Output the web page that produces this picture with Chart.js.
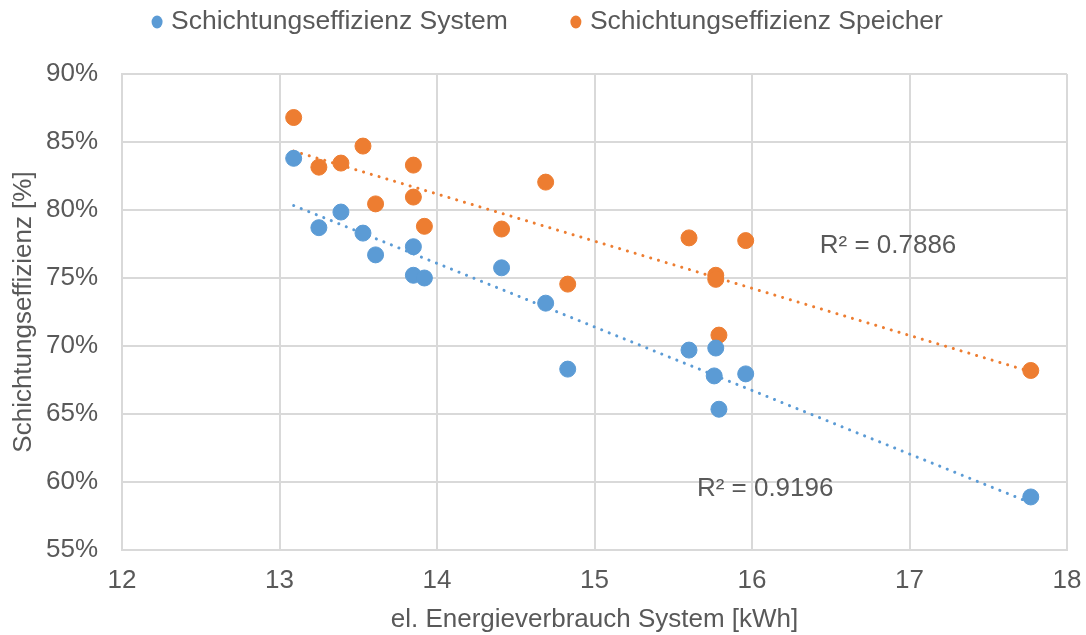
<!DOCTYPE html>
<html>
<head>
<meta charset="utf-8">
<script src="https://cdn.jsdelivr.net/npm/chart.js@4.4.1/dist/chart.umd.min.js"></script>
<style>
  html, body { margin: 0; padding: 0; background: #ffffff; }
  #wrap { width: 1086px; height: 635px; }
</style>
</head>
<body>
<div id="wrap"><canvas id="c" width="1086" height="635"></canvas></div>
<script>
// ---- data ----
const energy = [13.09, 13.25, 13.39, 13.53, 13.61, 13.85, 13.85, 13.92, 14.41, 14.69, 14.83, 15.60, 15.77, 15.76, 15.79, 15.96, 17.77];
const effSystem = [83.8, 78.7, 79.85, 78.3, 76.7, 77.3, 75.2, 75.0, 75.75, 73.15, 68.3, 69.7, 69.85, 67.8, 65.35, 67.95, 58.9];
const energySpeicher = [13.09, 13.25, 13.39, 13.53, 13.61, 13.85, 13.85, 13.92, 14.41, 14.69, 14.83, 15.60, 15.77, 15.77, 15.79, 15.96, 17.77];
const effSpeicher = [86.8, 83.15, 83.45, 84.7, 80.45, 83.3, 80.95, 78.8, 78.6, 82.05, 74.55, 77.95, 75.2, 74.9, 70.8, 77.75, 68.2];
const seriesNames = ["Schichtungseffizienz System", "Schichtungseffizienz Speicher"];
const r2Labels = ["R² = 0.9196", "R² = 0.7886"];
const r2Pos = [[15.65, 59.5], [16.43, 77.35]];
const xTicks = [12, 13, 14, 15, 16, 17, 18];
const yTicks = [55, 60, 65, 70, 75, 80, 85, 90];

const BLUE = "#5B9BD5", ORANGE = "#ED7D31", TXT = "#595959", GRID = "#D9D9D9";
const FONT = "'Liberation Sans', Arial, sans-serif";

function pts(xs, ys) { return xs.map((x, i) => ({ x: x, y: ys[i] })); }
function fit(xs, ys) {
  const n = xs.length;
  const mx = xs.reduce((a, b) => a + b, 0) / n, my = ys.reduce((a, b) => a + b, 0) / n;
  let sxy = 0, sxx = 0;
  for (let i = 0; i < n; i++) { sxy += (xs[i] - mx) * (ys[i] - my); sxx += (xs[i] - mx) ** 2; }
  const b = sxy / sxx, a = my - b * mx;
  const x0 = Math.min(...xs), x1 = Math.max(...xs);
  return [{ x: x0, y: a + b * x0 }, { x: x1, y: a + b * x1 }];
}

const legendPlugin = {
  id: 'topLegend',
  afterDraw(chart) {
    const ctx = chart.ctx;
    ctx.save();
    ctx.font = "26.5px " + FONT;
    ctx.textBaseline = 'middle';
    const r = 6, gap = 14, itemGap = 68;
    const w = seriesNames.map(s => ctx.measureText(s).width);
    const total = r + gap + w[0] + itemGap + gap + w[1];
    let x = 550 - total / 2 + r / 2;
    const y = 22;
    const cols = [BLUE, ORANGE];
    for (let i = 0; i < 2; i++) {
      ctx.fillStyle = cols[i];
      ctx.beginPath(); ctx.ellipse(x, y, 5.5, 6.5, 0, 0, Math.PI * 2); ctx.fill();
      ctx.fillStyle = TXT; ctx.textAlign = 'left';
      ctx.fillText(seriesNames[i], x + gap, y);
      x = x + gap + w[i] + itemGap;
    }
    // R² labels
    ctx.font = "26px " + FONT;
    const xs = chart.scales.x, ys = chart.scales.y;
    for (let i = 0; i < r2Labels.length; i++) {
      ctx.fillText(r2Labels[i], xs.getPixelForValue(r2Pos[i][0]), ys.getPixelForValue(r2Pos[i][1]));
    }
    ctx.restore();
  }
};

new Chart(document.getElementById('c'), {
  type: 'scatter',
  data: {
    datasets: [
      { label: seriesNames[0], data: pts(energy, effSystem), backgroundColor: BLUE, borderColor: BLUE, pointRadius: 8, pointHoverRadius: 8, order: 1 },
      { label: seriesNames[1], data: pts(energySpeicher, effSpeicher), backgroundColor: ORANGE, borderColor: ORANGE, pointRadius: 8, pointHoverRadius: 8, order: 1 },
      { type: 'line', label: 'Trend System', data: fit(energy, effSystem), borderColor: BLUE, borderWidth: 3, borderDash: [0.1, 8], borderCapStyle: 'round', pointRadius: 0, showLine: true, fill: false, order: 2 },
      { type: 'line', label: 'Trend Speicher', data: fit(energySpeicher, effSpeicher), borderColor: ORANGE, borderWidth: 3, borderDash: [0.1, 8], borderCapStyle: 'round', pointRadius: 0, showLine: true, fill: false, order: 2 }
    ]
  },
  options: {
    responsive: false,
    animation: false,
    devicePixelRatio: 1,
    layout: { padding: { top: 74, right: 19, left: 0, bottom: 0 } },
    plugins: { legend: { display: false }, tooltip: { enabled: false } },
    scales: {
      x: {
        type: 'linear', min: 12, max: 18,
        afterBuildTicks: (s) => { s.ticks = xTicks.map(v => ({ value: v })); },
        afterFit: (s) => { s.height = 85; s.paddingLeft = 0; s.paddingRight = 0; },
        grid: { color: GRID, lineWidth: 2, drawTicks: false },
        border: { color: GRID, width: 2 },
        ticks: { color: TXT, font: { family: FONT, size: 26 }, padding: 15, maxRotation: 0 },
        title: { display: true, text: 'el. Energieverbrauch System [kWh]', color: TXT, font: { family: FONT, size: 26 }, padding: { top: 0, bottom: 0 } }
      },
      y: {
        type: 'linear', min: 55, max: 90,
        afterBuildTicks: (s) => { s.ticks = yTicks.map(v => ({ value: v })); },
        afterFit: (s) => { s.width = 122; s.paddingTop = 0; s.paddingBottom = 0; },
        grid: { color: GRID, lineWidth: 2, drawTicks: false },
        border: { color: GRID, width: 2 },
        ticks: { color: TXT, font: { family: FONT, size: 26 }, padding: 24, callback: (v) => v + '%' },
        title: { display: true, text: 'Schichtungseffizienz [%]', color: TXT, font: { family: FONT, size: 26 }, padding: { top: 8, bottom: 0 } }
      }
    }
  },
  plugins: [legendPlugin]
});
</script>
</body>
</html>
